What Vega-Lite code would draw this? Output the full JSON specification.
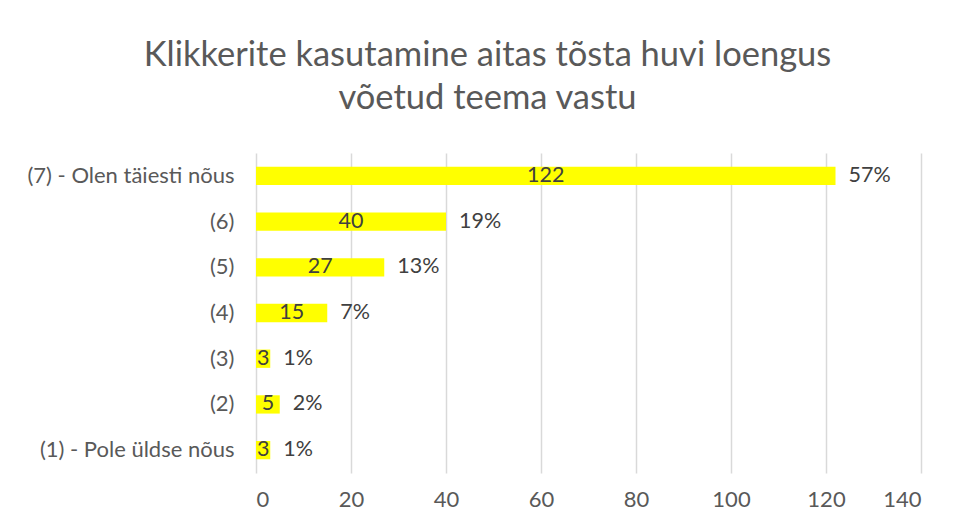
{
  "$schema": "https://vega.github.io/schema/vega-lite/v6.json",
  "autosize": {"type": "none"},
  "width": 665,
  "height": 320,
  "padding": {"left": 256, "top": 153, "right": 36, "bottom": 53},
  "background": "white",
  "config": {
    "font": "Lato",
    "view": {"stroke": null},
    "axis": {"labelFont": "Lato", "labelColor": "#595959", "labelFontSize": 22, "labelLimit": 0}
  },
  "title": {
    "text": ["Klikkerite kasutamine aitas tõsta huvi loengus", "võetud teema vastu"],
    "font": "Lato",
    "fontSize": 34.5,
    "fontWeight": "normal",
    "color": "#595959",
    "anchor": "middle",
    "dx": -101,
    "offset": 37,
    "lineHeight": 43
  },
  "data": {
    "values": [
      {"cat": "(7) - Olen täiesti nõus", "n": 122, "pct": "57%"},
      {"cat": "(6)", "n": 40, "pct": "19%"},
      {"cat": "(5)", "n": 27, "pct": "13%"},
      {"cat": "(4)", "n": 15, "pct": "7%"},
      {"cat": "(3)", "n": 3, "pct": "1%"},
      {"cat": "(2)", "n": 5, "pct": "2%"},
      {"cat": "(1) - Pole üldse nõus", "n": 3, "pct": "1%"}
    ]
  },
  "encoding": {
    "y": {
      "field": "cat",
      "type": "nominal",
      "sort": null,
      "scale": {"paddingInner": 0.6, "paddingOuter": 0.3},
      "axis": {"title": null, "domain": false, "ticks": false, "labelPadding": 22, "grid": false, "labelLimit": 0}
    }
  },
  "layer": [
    {
      "mark": {"type": "bar", "color": "#ffff00"},
      "encoding": {
        "x": {
          "field": "n",
          "type": "quantitative",
          "scale": {"domain": [0, 140], "nice": false},
          "axis": {
            "title": null,
            "values": [0, 20, 40, 60, 80, 100, 120, 140],
            "domain": false,
            "ticks": false,
            "grid": true,
            "gridColor": "#d9d9d9",
            "gridWidth": 1.5,
            "labelPadding": 16
          }
        }
      }
    },
    {
      "mark": {"type": "text", "font": "Lato", "fontSize": 21.5, "color": "#404040", "align": "center", "baseline": "middle"},
      "encoding": {
        "x": {"field": "n", "type": "quantitative", "scale": {"domain": [0, 280], "nice": false}, "axis": null},
        "text": {"field": "n", "type": "quantitative"}
      }
    },
    {
      "mark": {"type": "text", "font": "Lato", "fontSize": 21.5, "color": "#404040", "align": "left", "baseline": "middle", "dx": 13},
      "encoding": {
        "x": {"field": "n", "type": "quantitative", "scale": {"domain": [0, 140], "nice": false}, "axis": null},
        "text": {"field": "pct", "type": "nominal"}
      }
    }
  ],
  "resolve": {"scale": {"x": "independent"}}
}
